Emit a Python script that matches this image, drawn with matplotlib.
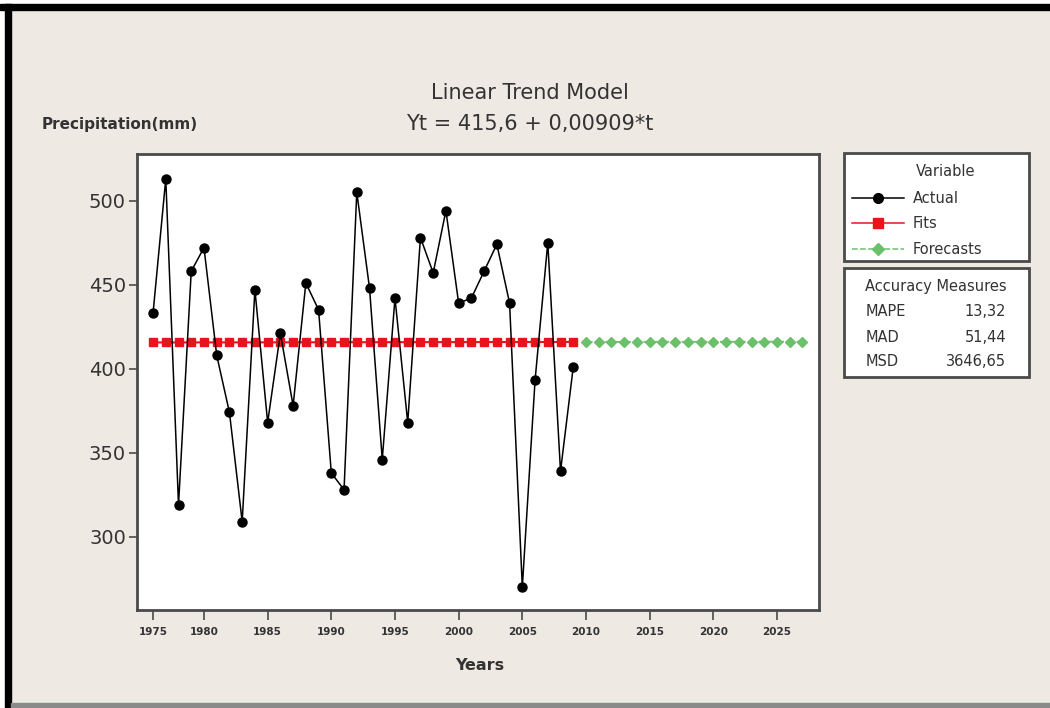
import matplotlib
matplotlib.use("Agg")
from matplotlib import pyplot as plt
from matplotlib.lines import Line2D
from matplotlib.patches import Rectangle
import numpy as np

plt.rcParams["font.family"] = ["DejaVu Sans"]

# data (Minitab trend analysis, x is the period index t)
t_actual = np.arange(1, 35)
actual = [433, 513, 319, 458, 472, 408, 374, 309, 447, 368, 421, 378, 451, 435,
          338, 328, 505, 448, 346, 442, 368, 478, 457, 494, 439, 442, 458, 474,
          439, 270, 393, 475, 339, 401]
fits = [415.61, 415.62, 415.63, 415.64, 415.65, 415.65, 415.66, 415.67, 415.68,
        415.69, 415.70, 415.71, 415.72, 415.73, 415.74, 415.75, 415.75, 415.76,
        415.77, 415.78, 415.79, 415.80, 415.81, 415.82, 415.83, 415.84, 415.85,
        415.85, 415.86, 415.87, 415.88, 415.89, 415.90, 415.91]
t_forecast = np.arange(35, 53)
forecasts = [415.92, 415.93, 415.94, 415.95, 415.95, 415.96, 415.97, 415.98,
             415.99, 416.00, 416.01, 416.02, 416.03, 416.04, 416.05, 416.05,
             416.06, 416.07]
tick_pos = [1, 5, 10, 15, 20, 25, 30, 35, 40, 45, 50]
tick_labels = ["1975", "1980", "1985", "1990", "1995", "2000", "2005", "2010",
               "2015", "2020", "2025"]
measures = ["MAPE", "MAD", "MSD"]
measure_values = ["13,32", "51,44", "3646,65"]

W, H = 1050, 708
bg = "#efe9e3"
red = "#e8141c"
green = "#6cc06c"
frame = "#4a4a4a"
txt = "#333333"

fig = plt.figure(figsize=(W / 100, H / 100), dpi=100, facecolor=bg)

# outer frame: white strip, black borders, grey bottom line
fig.patches.append(Rectangle((0, 1 - 4 / H), 1, 4 / H, transform=fig.transFigure,
                             color="white", zorder=0))
fig.patches.append(Rectangle((0, 1 - 10 / H), 1, 6 / H, transform=fig.transFigure,
                             color="black", zorder=1))
fig.patches.append(Rectangle((0, 0), 4 / W, 1, transform=fig.transFigure,
                             color="white", zorder=0))
fig.patches.append(Rectangle((5 / W, 0), 6 / W, 1 - 4 / H, transform=fig.transFigure,
                             color="black", zorder=1))
fig.patches.append(Rectangle((11 / W, 1 / H), 1, 4 / H, transform=fig.transFigure,
                             color="#8a8a8a", zorder=1))

ax = fig.add_axes([137 / W, (H - 610) / H, (819 - 137) / W, (610 - 154) / H])
ax.set_facecolor("white")

ax.plot(t_actual, fits, color=red, lw=1.5, marker="s", ms=6, mec=red, mfc=red, zorder=2)
ax.plot(t_forecast, forecasts, color=green, lw=1.3, ls="--", marker="D", ms=5.5,
        mec=green, mfc=green, zorder=2)
ax.plot(t_actual, actual, color="black", lw=1.1, marker="o", ms=6.5, zorder=3)

ax.set_xlim(-0.26, 53.3)
ax.set_ylim(256.5, 527.7)
ax.set_xticks(tick_pos)
ax.set_xticklabels(tick_labels, fontsize=7.5, fontweight="bold", color=txt)
ax.set_yticks([300, 350, 400, 450, 500])
ax.tick_params(axis="y", labelsize=14, length=6, width=1.2, color=frame,
               labelcolor=txt, pad=2)
ax.tick_params(axis="x", length=7, width=1.2, color=frame, pad=5)
for s in ax.spines.values():
    s.set_color(frame)
    s.set_linewidth(2)

fig.text(530 / W, 1 - 93 / H, "Linear Trend Model", ha="center", va="center",
         fontsize=15, color=txt)
fig.text(530 / W, 1 - 124 / H, "Yt = 415,6 + 0,00909*t", ha="center", va="center",
         fontsize=15, color=txt)
fig.text(42 / W, 1 - 125 / H, "Precipitation(mm)", ha="left", va="center",
         fontsize=11, fontweight="bold", color=txt)
fig.text(480 / W, 1 - 665 / H, "Years", ha="center", va="center",
         fontsize=11.5, fontweight="bold", color=txt)

# legend box
fig.patches.append(Rectangle((844 / W, 1 - 261 / H), 185 / W, 108 / H,
                             transform=fig.transFigure, facecolor="white",
                             edgecolor=frame, lw=2, zorder=2))
fig.text(946 / W, 1 - 172 / H, "Variable", ha="center", va="center",
         fontsize=10.5, color=txt)
handles = [Line2D([], [], color="black", lw=1.1, marker="o", ms=7),
           Line2D([], [], color=red, lw=1.1, marker="s", ms=7),
           Line2D([], [], color=green, lw=1.1, ls="--", marker="D", ms=6)]
leg = fig.legend(handles, ["Actual", "Fits", "Forecasts"], loc="upper left",
                 bbox_to_anchor=(838 / W, 1 - 177 / H), frameon=False,
                 fontsize=10.5, handlelength=3.6, handletextpad=0.6,
                 labelspacing=0.72, borderpad=0.45)
for t in leg.get_texts():
    t.set_color(txt)

# accuracy measures box
fig.patches.append(Rectangle((844 / W, 1 - 377 / H), 185 / W, 109 / H,
                             transform=fig.transFigure, facecolor="white",
                             edgecolor=frame, lw=2, zorder=2))
fig.text(936 / W, 1 - 287 / H, "Accuracy Measures", ha="center", va="center",
         fontsize=10.5, color=txt)
for i, (name, val) in enumerate(zip(measures, measure_values)):
    y = 1 - (312 + 25 * i) / H
    fig.text(866 / W, y, name, ha="left", va="center", fontsize=10.5, color=txt)
    fig.text(1006 / W, y, val, ha="right", va="center", fontsize=10.5, color=txt)

plt.savefig("out.png", dpi=100, facecolor=bg)
plt.close()
